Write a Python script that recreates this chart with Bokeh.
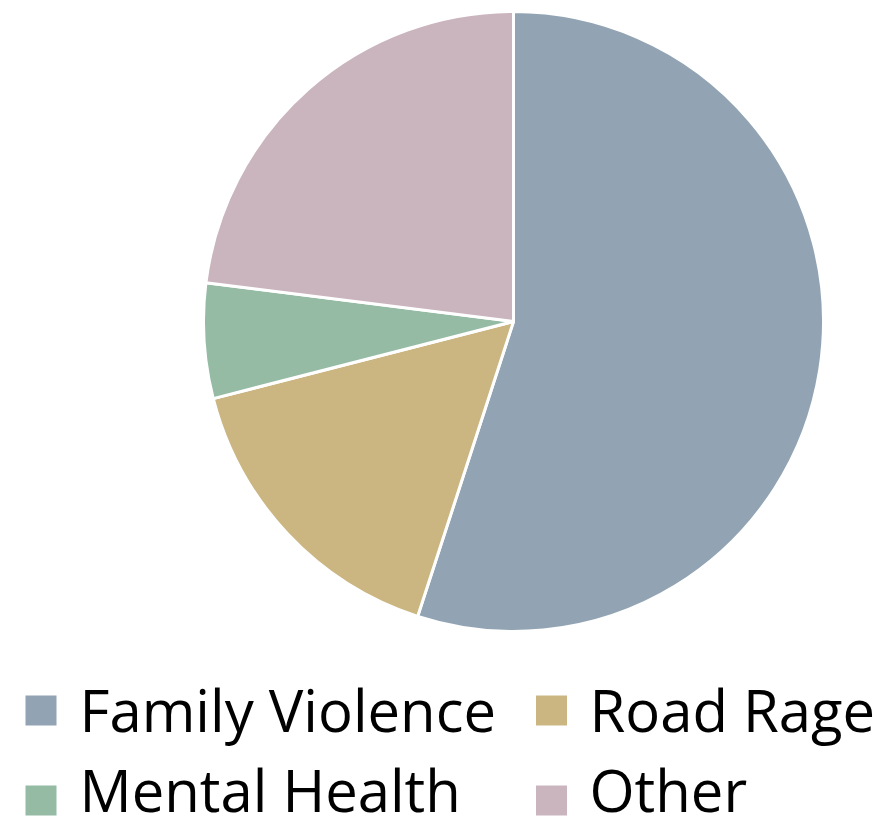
import math
from bokeh.plotting import figure
from bokeh.models import Range1d, ColumnDataSource
from bokeh.core.properties import value
from bokeh.embed import file_html
from bokeh.resources import INLINE

categories = ["Family Violence", "Road Rage", "Mental Health", "Other"]
shares = [55, 16, 6, 23]
colors = ["#92A4B3", "#CBB682", "#95BBA5", "#CAB4BD"]

W, H = 877, 830
p = figure(width=W, height=H, output_backend="svg", toolbar_location=None,
           x_range=Range1d(0, W), y_range=Range1d(0, H), min_border=0)
p.axis.visible = False
p.grid.visible = False
p.outline_line_color = None
p.background_fill_color = "white"

total = sum(shares)
starts, ends = [], []
a = math.pi / 2
for s in shares:
    starts.append(a)
    a -= 2 * math.pi * s / total
    ends.append(a)

src = ColumnDataSource(dict(cat=categories, start=starts, end=ends, color=colors))
p.wedge(x=513, y=H - 321, radius=310, start_angle="start", end_angle="end",
        direction="clock", fill_color="color", line_color="white", line_width=3,
        source=src)

# legend (2 columns)
col_sq = [40.5, 551]
col_tx = [79, 589]
row_sq = [710, 800]
row_base = [732 - 23, 812 - 23]
lx, ly, tx, ty = [], [], [], []
for i, c in enumerate(categories):
    r, k = divmod(i, 2)
    lx.append(col_sq[k]); ly.append(H - row_sq[r])
    tx.append(col_tx[k]); ty.append(H - row_base[r])
lsrc = ColumnDataSource(dict(x=lx, y=ly, tx=tx, ty=ty, cat=categories, color=colors))
p.rect(x="x", y="y", width=31, height=30, fill_color="color", line_color=None, source=lsrc)
p.text(x="tx", y="ty", text="cat", text_font=value("Open Sans"), text_font_size="58px",
       text_baseline="alphabetic", text_align="left", text_color="black", source=lsrc)

open("out.html", "w").write(file_html(p, INLINE))
